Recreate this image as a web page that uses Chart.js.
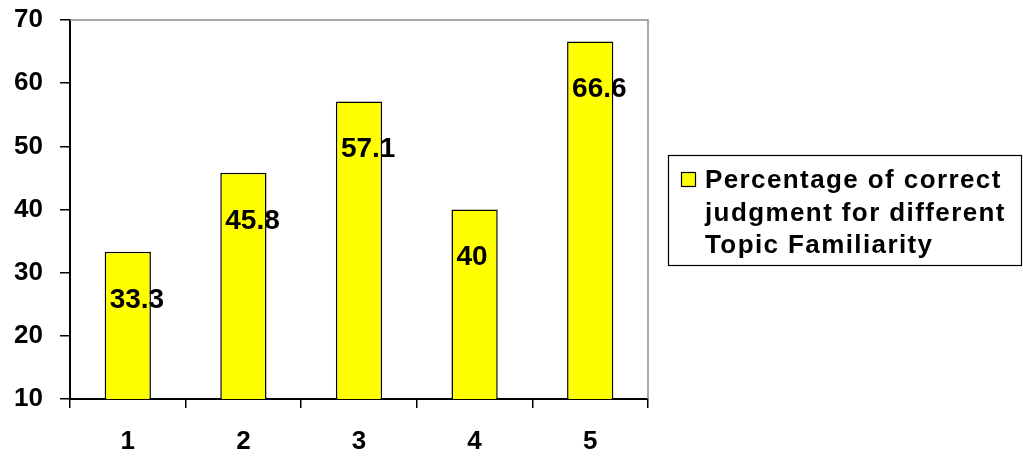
<!DOCTYPE html>
<html>
<head>
<meta charset="utf-8">
<title>Topic Familiarity</title>
<script src="https://cdn.jsdelivr.net/npm/chart.js@4/dist/chart.umd.min.js"></script>
<style>
  html, body { margin: 0; padding: 0; background: #fff; }
  canvas { display: block; }
</style>
</head>
<body>
<canvas id="chart" width="1023" height="456"></canvas>
<script>
// Topic familiarity levels and share of correct judgments (%)
const categories = ['1', '2', '3', '4', '5'];
const correctPct = [33.3, 45.8, 57.1, 40, 66.6];
const yTicks = [10, 20, 30, 40, 50, 60, 70];
const seriesName = ['Percentage of correct', 'judgment for different', 'Topic Familiarity'];

const FONT = 'Arial, "Liberation Sans", sans-serif';
const BAR_COLOR = '#FFFF00';

// Gray frame on the top and right edges of the plot area
const frame = {
  id: 'frame',
  beforeDatasetsDraw(chart) {
    const { ctx, chartArea: a } = chart;
    ctx.save();
    ctx.strokeStyle = '#8c8c8c';
    ctx.lineWidth = 1.5;
    ctx.beginPath();
    ctx.moveTo(a.left, a.top);
    ctx.lineTo(a.right, a.top);
    ctx.lineTo(a.right, a.bottom);
    ctx.stroke();
    ctx.restore();
  }
};

// Value labels written inside each bar, below its top
const valueLabels = {
  id: 'valueLabels',
  afterDatasetsDraw(chart) {
    const { ctx } = chart;
    const meta = chart.getDatasetMeta(0);
    const values = chart.data.datasets[0].data;
    ctx.save();
    ctx.font = 'bold 28px ' + FONT;
    ctx.fillStyle = '#000';
    ctx.textAlign = 'left';
    ctx.textBaseline = 'middle';
    meta.data.forEach((bar, i) => {
      const left = bar.x - bar.width / 2;
      ctx.fillText(String(values[i]), left + 5, bar.y + 48);
    });
    ctx.restore();
  }
};

// Boxed legend to the right of the plot, with a wrapped series name
const boxLegend = {
  id: 'boxLegend',
  afterDraw(chart) {
    const { ctx, chartArea: a } = chart;
    const boxX = a.right + 20.5, boxY = 155.5, boxW = 353, boxH = 110;
    ctx.save();
    ctx.strokeStyle = '#000';
    ctx.lineWidth = 1.2;
    ctx.strokeRect(boxX, boxY, boxW, boxH);

    ctx.fillStyle = BAR_COLOR;
    ctx.fillRect(681.5, 172.5, 14, 14);
    ctx.strokeRect(681.5, 172.5, 14, 14);

    ctx.fillStyle = '#000';
    ctx.font = 'bold 26px ' + FONT;
    ctx.textAlign = 'left';
    ctx.textBaseline = 'alphabetic';
    if ('letterSpacing' in ctx) ctx.letterSpacing = '1.4px';
    seriesName.forEach((line, i) => {
      ctx.fillText(line, 705, 188 + i * 32.5);
    });
    ctx.restore();
  }
};

new Chart(document.getElementById('chart'), {
  type: 'bar',
  data: {
    labels: categories,
    datasets: [{
      label: seriesName.join(' '),
      data: correctPct,
      backgroundColor: BAR_COLOR,
      borderColor: '#000',
      borderWidth: 1.5,
      borderSkipped: false,
      categoryPercentage: 0.4,
      barPercentage: 1.0
    }]
  },
  options: {
    responsive: false,
    animation: false,
    devicePixelRatio: 1,
    layout: { padding: { top: 20, right: 375, bottom: 0, left: 0 } },
    plugins: {
      legend: { display: false },
      tooltip: { enabled: false }
    },
    scales: {
      x: {
        offset: true,
        grid: {
          offset: true,
          drawOnChartArea: false,
          drawTicks: true,
          tickLength: 9,
          color: '#000',
          lineWidth: 1.5
        },
        border: { color: '#000', width: 2 },
        ticks: {
          color: '#000',
          padding: 18,
          font: { family: FONT, size: 26, weight: 'bold' }
        },
        afterFit(scale) { scale.height = 57; }
      },
      y: {
        min: yTicks[0],
        max: yTicks[yTicks.length - 1],
        afterBuildTicks(scale) { scale.ticks = yTicks.map(v => ({ value: v })); },
        grid: {
          drawOnChartArea: false,
          drawTicks: true,
          tickLength: 10,
          color: '#000',
          lineWidth: 1.5
        },
        border: { color: '#000', width: 2 },
        ticks: {
          color: '#000',
          padding: 17,
          font: { family: FONT, size: 26, weight: 'bold' }
        },
        afterFit(scale) {
          scale.width = 70;
          // the outer layout padding already leaves room for the end labels
          scale.paddingTop = 0;
          scale.paddingBottom = 0;
        }
      }
    }
  },
  plugins: [frame, valueLabels, boxLegend]
});
</script>
</body>
</html>
